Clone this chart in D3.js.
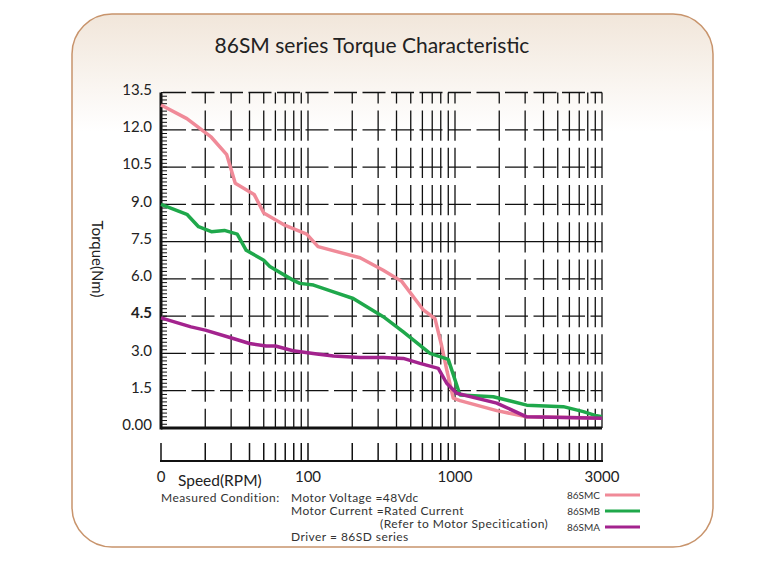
<!DOCTYPE html>
<html>
<head>
<meta charset="utf-8">
<script src="https://cdn.jsdelivr.net/npm/d3@7"></script>
<style>
  body { margin: 0; background: #fff; }
  svg { display: block; font-family: Lato, "Open Sans", sans-serif; }
</style>
</head>
<body>
<div class="canvas"></div>
<script>
// speed breakpoints of the axis (each one takes one "decade" of the grid)
const speedBreaks = [10, 100, 1000, 3000];
const speedLabels = ['0', '100', '1000', '3000'];
const torqueTicks = [0, 1.5, 3, 4.5, 6, 7.5, 9, 10.5, 12, 13.5];
const torqueLabels = ['0.00', '1.5', '3.0', '4.5', '6.0', '7.5', '9.0', '10.5', '12.0', '13.5'];

// curves: [speed rpm, torque Nm]
const smc = [[10,13.0],[15,12.45],[22,11.7],[28,11.0],[32,9.85],[43,9.4],[50,8.65],[70,8.15],[98,7.8],
  [117,7.3],[226,6.85],[325,6.35],[434,5.9],[609,4.75],[731,4.4],[812,3.3],[878,2.35],[973,1.2],
  [1038,1.1],[1366,0.7],[1709,0.45],[3000,0.4]];
const smb = [[10,9.0],[15,8.6],[18,8.1],[22,7.9],[27,7.95],[33,7.8],[38,7.15],[50,6.75],[55,6.5],
  [79,5.95],[88,5.82],[109,5.75],[149,5.48],[203,5.21],[325,4.48],[445,3.87],[676,3.0],[900,2.76],
  [1038,1.33],[1331,1.26],[1709,0.92],[2247,0.86],[2609,0.66],[2883,0.49],[3000,0.45]];
const sma = [[10,4.43],[16,4.07],[20,3.94],[31,3.6],[40,3.4],[52,3.3],[60,3.3],[79,3.11],[115,2.98],
  [149,2.9],[226,2.84],[325,2.84],[445,2.8],[578,2.6],[770,2.4],[878,1.8],[1013,1.4],[1366,1.0],
  [1709,0.45],[3000,0.39]];

const seriesNames = ['86SMC', '86SMB', '86SMA'];
const seriesColors = ['#f08a98', '#1fa84b', '#a3238e'];
const seriesData = [smc, smb, sma];

const W = 782, H = 567;
const svg = d3.select('.canvas').append('svg')
  .attr('width', W).attr('height', H);

// frame with soft beige top
const defs = svg.append('defs');
const grad = defs.append('linearGradient').attr('id', 'bg')
  .attr('x1', 0).attr('y1', 0).attr('x2', 0).attr('y2', 1);
grad.append('stop').attr('offset', '0%').attr('stop-color', '#f1e6da');
grad.append('stop').attr('offset', '22%').attr('stop-color', '#ffffff');
grad.append('stop').attr('offset', '100%').attr('stop-color', '#ffffff');

svg.append('rect')
  .attr('x', 72).attr('y', 14).attr('width', 641).attr('height', 533)
  .attr('rx', 40).attr('ry', 40)
  .attr('fill', 'url(#bg)')
  .attr('stroke', '#c8946c').attr('stroke-width', 1.5);

svg.append('text')
  .attr('x', 372).attr('y', 53)
  .attr('text-anchor', 'middle')
  .attr('font-size', 21).attr('fill', '#222')
  .text('86SM series Torque Characteristic');

// scales: piecewise log for speed
const x = d3.scaleLog().domain(speedBreaks).range([161, 308, 455, 602]);
const y = d3.scaleLinear().domain([0, 13.5]).range([428, 92.5]);

// grid positions: 1..10 log steps inside every segment
const gridSpeeds = [];
for (let i = 0; i < speedBreaks.length - 1; i++) {
  const a = Math.log(speedBreaks[i]), b = Math.log(speedBreaks[i + 1]);
  for (let k = (i === 0 ? 1 : 2); k <= 10; k++) {
    gridSpeeds.push(Math.exp(a + Math.log10(k) * (b - a)));
  }
}

const g = svg.append('g');

// vertical grid, one short gap a little below each row line
const rowH = y(0) - y(1.5);
g.selectAll('.vgrid')
  .data(gridSpeeds.slice(1))
  .enter().append('line')
  .attr('class', 'vgrid')
  .attr('x1', d => x(d)).attr('x2', d => x(d))
  .attr('y1', y(13.5)).attr('y2', y(0))
  .attr('stroke', '#111').attr('stroke-width', 1.3)
  .attr('stroke-dasharray', `${rowH - 7},7`)
  .attr('stroke-dashoffset', rowH - 7 - 11);

// horizontal grid (7.5 solid)
g.selectAll('.hgrid')
  .data(torqueTicks.slice(1))
  .enter().append('line')
  .attr('class', 'hgrid')
  .attr('x1', x(10)).attr('x2', x(3000))
  .attr('y1', d => y(d)).attr('y2', d => y(d))
  .attr('stroke', '#111').attr('stroke-width', 1.3)
  .attr('stroke-dasharray', d => d === 7.5 ? null : '23,5.5')
  .attr('stroke-dashoffset', -2);

// left ruler ticks
g.selectAll('.minor')
  .data(d3.range(0, 91).map(i => i * 0.15))
  .enter().append('line')
  .attr('x1', x(10)).attr('x2', x(10) + 6)
  .attr('y1', d => y(d)).attr('y2', d => y(d))
  .attr('stroke', '#111').attr('stroke-width', 1);

// axes lines
g.append('line')
  .attr('x1', x(10)).attr('x2', x(10)).attr('y1', y(13.5)).attr('y2', y(0) + 1.5)
  .attr('stroke', '#111').attr('stroke-width', 3);
g.append('line')
  .attr('x1', x(10)).attr('x2', x(3000)).attr('y1', y(0)).attr('y2', y(0))
  .attr('stroke', '#111').attr('stroke-width', 3);

// bottom ruler
const rulerY = 461;
g.append('line')
  .attr('x1', x(10) - 1).attr('x2', x(3000) + 1).attr('y1', rulerY).attr('y2', rulerY)
  .attr('stroke', '#111').attr('stroke-width', 2);
g.selectAll('.rtick')
  .data(gridSpeeds)
  .enter().append('line')
  .attr('x1', d => x(d)).attr('x2', d => x(d))
  .attr('y1', rulerY - 18).attr('y2', rulerY)
  .attr('stroke', '#111').attr('stroke-width', 1.5);

// y labels
g.selectAll('.ylab')
  .data(torqueTicks)
  .enter().append('text')
  .attr('x', 152).attr('y', d => y(d) - 3)
  .attr('dy', '0.35em')
  .attr('text-anchor', 'end')
  .attr('font-size', 15).attr('fill', '#222')
  .attr('font-weight', d => d === 4.5 ? 'bold' : null)
  .text((d, i) => torqueLabels[i]);

// x labels
g.selectAll('.xlab')
  .data(speedBreaks)
  .enter().append('text')
  .attr('x', d => x(d)).attr('y', 482)
  .attr('text-anchor', 'middle')
  .attr('font-size', 15).attr('fill', '#222')
  .text((d, i) => speedLabels[i]);

g.append('text')
  .attr('x', 178).attr('y', 486)
  .attr('font-size', 15.5).attr('fill', '#222')
  .text('Speed(RPM)');

g.append('text')
  .attr('transform', 'translate(92, 259) rotate(90)')
  .attr('text-anchor', 'middle')
  .attr('font-size', 15).attr('fill', '#222')
  .text('Torque(Nm)');

// curves
const line = d3.line().x(d => x(d[0])).y(d => y(d[1]));
g.selectAll('.curve')
  .data(seriesData)
  .enter().append('path')
  .attr('class', 'curve')
  .attr('fill', 'none')
  .attr('stroke', (d, i) => seriesColors[i])
  .attr('stroke-width', 3.5)
  .attr('stroke-linejoin', 'round')
  .attr('d', line);

// measurement notes (tight lines like the original)
const notes = svg.append('g')
  .attr('font-size', 12).attr('letter-spacing', 0.45).attr('fill', '#333');
notes.append('text').attr('x', 161).attr('y', 501.5).text('Measured Condition:');
notes.append('text').attr('x', 291).attr('y', 501.5).text('Motor Voltage =48Vdc');
notes.append('text').attr('x', 291).attr('y', 515).text('Motor Current =Rated Current');
notes.append('text').attr('x', 380).attr('y', 528).text('(Refer to Motor Specitication)');
notes.append('text').attr('x', 291).attr('y', 540.5).text('Driver = 86SD series');

// legend
const legend = svg.append('g');
seriesNames.forEach((name, i) => {
  const ly = [495, 511, 527][i];
  legend.append('text')
    .attr('x', 600).attr('y', ly + 3.5)
    .attr('text-anchor', 'end')
    .attr('font-size', 10).attr('fill', '#333')
    .text(name);
  legend.append('line')
    .attr('x1', 605).attr('x2', 640).attr('y1', ly).attr('y2', ly)
    .attr('stroke', seriesColors[i]).attr('stroke-width', 3);
});
</script>
</body>
</html>
